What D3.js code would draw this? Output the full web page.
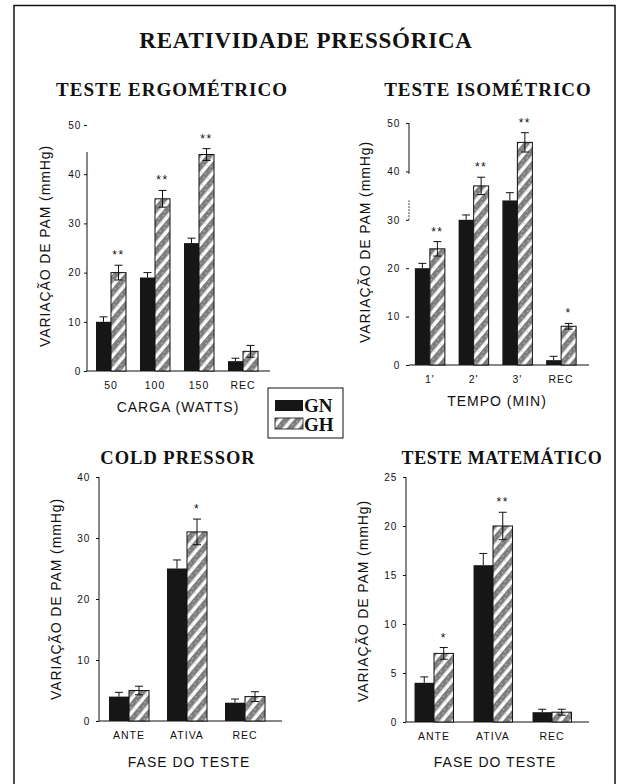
<!DOCTYPE html>
<html><head><meta charset="utf-8">
<script src="https://cdn.jsdelivr.net/npm/d3@7"></script>
<style>
html,body{margin:0;padding:0;background:#fff;}
svg{display:block;}
.serif{font-family:"Liberation Serif","Times New Roman",serif;font-weight:bold;fill:#111;}
.sans{font-family:"Liberation Sans",Arial,sans-serif;fill:#111;}
</style></head>
<body>
<svg id="c" width="618" height="784"></svg>
<script>
// ---------- DATA ----------
const series = ["GN", "GH"];

const ergoCats = ["50", "100", "150", "REC"];
const ergoGN = [10, 19, 26, 2];
const ergoGNerr = [1, 1, 1, 0.6];
const ergoGH = [20, 35, 44, 4];
const ergoGHerr = [1.5, 1.7, 1.2, 1.2];
const ergoSig = ["**", "**", "**", ""];
const ergoTicks = [0, 10, 20, 30, 40, 50];

const isoCats = ["1'", "2'", "3'", "REC"];
const isoGN = [20, 30, 34, 1];
const isoGNerr = [1, 1, 1.6, 0.8];
const isoGH = [24, 37, 46, 8];
const isoGHerr = [1.5, 1.8, 2, 0.6];
const isoSig = ["**", "**", "**", "*"];
const isoTicks = [0, 10, 20, 30, 40, 50];

const coldCats = ["ANTE", "ATIVA", "REC"];
const coldGN = [4, 25, 3];
const coldGNerr = [0.7, 1.4, 0.6];
const coldGH = [5, 31, 4];
const coldGHerr = [0.7, 2.1, 0.8];
const coldSig = ["", "*", ""];
const coldTicks = [0, 10, 20, 30, 40];

const matCats = ["ANTE", "ATIVA", "REC"];
const matGN = [4, 16, 1];
const matGNerr = [0.6, 1.2, 0.3];
const matGH = [7, 20, 1];
const matGHerr = [0.6, 1.4, 0.3];
const matSig = ["*", "**", ""];
const matTicks = [0, 5, 10, 15, 20, 25];

const yLabel = "VARIAÇÃO DE PAM (mmHg)";
// ---------- DRAW ----------
const svg = d3.select("#c");
const defs = svg.append("defs");
const pat = defs.append("pattern").attr("id", "hatch")
  .attr("patternUnits", "userSpaceOnUse").attr("width", 9).attr("height", 9)
  .attr("patternTransform", "rotate(40)");
pat.append("rect").attr("width", 9).attr("height", 9).attr("fill", "#fff");
pat.append("rect").attr("x", 0).attr("width", 5.5).attr("height", 9).attr("fill", "#7c7c7c");
pat.append("circle").attr("cx", 2).attr("cy", 2).attr("r", 0.7).attr("fill", "#cfcfcf");
pat.append("circle").attr("cx", 3.5).attr("cy", 6).attr("r", 0.7).attr("fill", "#cfcfcf");
pat.append("circle").attr("cx", 7.2).attr("cy", 4).attr("r", 0.6).attr("fill", "#999");

// frame
svg.append("path").attr("d", "M14,790 L14,5.5 L615,5.5 L615,790")
  .attr("fill", "none").attr("stroke", "#111").attr("stroke-width", 1.5);

svg.append("text").attr("class", "serif").attr("x", 306).attr("y", 48)
  .attr("text-anchor", "middle").style("font-size", "23px").style("letter-spacing", "0.8px")
  .text("REATIVIDADE PRESSÓRICA");

function panel(cfg) {
  const g = svg.append("g");
  const y = d3.scaleLinear().domain([0, cfg.max]).range([cfg.y0, cfg.yTop]);
  const x0 = d3.scaleBand().domain(cfg.cats).range(cfg.xr)
    .paddingInner(cfg.pi).paddingOuter(cfg.pi / 2);
  const x1 = d3.scaleBand().domain(series).range([0, x0.bandwidth()]);

  // title
  g.append("text").attr("class", "serif").attr("x", cfg.tx).attr("y", cfg.ty)
    .attr("text-anchor", "middle").style("font-size", cfg.tfs + "px").style("letter-spacing", cfg.tls + "px")
    .text(cfg.title);

  // y axis ticks/labels
  const ax = d3.axisLeft(y).tickValues(cfg.ticks).tickSize(3).tickPadding(cfg.tp);
  const ag = g.append("g").attr("transform", `translate(${cfg.ax},0)`).call(ax);
  ag.select(".domain").remove();
  ag.selectAll("line").attr("stroke", "#111");
  ag.selectAll("text").attr("class", "sans").attr("fill", "#111")
    .style("font-size", "10px").style("font-family", "Liberation Sans, Arial, sans-serif")
    .style("letter-spacing", "0.8px");
  // axis line segments
  cfg.seg.forEach(s => {
    g.append("line").attr("x1", cfg.ax).attr("x2", cfg.ax)
      .attr("y1", y(s[0])).attr("y2", y(s[1]))
      .attr("stroke", "#111").attr("stroke-width", 1)
      .attr("stroke-dasharray", s[2] ? "1.5,1.5" : null);
  });
  // baseline
  g.append("line").attr("x1", cfg.ax).attr("x2", cfg.xEnd)
    .attr("y1", y(0)).attr("y2", y(0)).attr("stroke", "#111").attr("stroke-width", 1.2);

  // bars
  const rows = cfg.cats.map((c, i) => ({
    c, i, vals: [
      {s: "GN", v: cfg.gn[i], e: cfg.gnErr[i]},
      {s: "GH", v: cfg.gh[i], e: cfg.ghErr[i]}
    ], sig: cfg.sig[i]
  }));
  const grp = g.selectAll(".grp").data(rows).join("g")
    .attr("transform", d => `translate(${x0(d.c)},0)`);
  grp.selectAll("rect").data(d => d.vals).join("rect")
    .attr("x", d => x1(d.s)).attr("width", x1.bandwidth())
    .attr("y", d => y(d.v)).attr("height", d => y(0) - y(d.v))
    .attr("fill", d => d.s === "GN" ? "#161616" : "url(#hatch)")
    .attr("stroke", "#111").attr("stroke-width", d => d.s === "GN" ? 0 : 1);
  // error bars
  const cap = 4;
  grp.selectAll(".eb").data(d => d.vals).join("path").attr("class", "eb")
    .attr("d", d => {
      const cx = x1(d.s) + x1.bandwidth() / 2;
      const top = y(d.v + d.e), bot = y(Math.max(0, d.v - (d.s === "GH" ? d.e : 0)));
      let p = `M${cx},${bot}L${cx},${top}M${cx - cap},${top}L${cx + cap},${top}`;
      if (d.s === "GH") p += `M${cx - cap},${bot}L${cx + cap},${bot}`;
      return p;
    })
    .attr("fill", "none").attr("stroke", "#111").attr("stroke-width", 1);
  // significance
  grp.append("text").attr("class", "sans")
    .attr("x", x1("GH") + x1.bandwidth() / 2)
    .attr("y", d => y(d.vals[1].v + d.vals[1].e) - 6)
    .attr("text-anchor", "middle").style("font-size", "12px").style("letter-spacing", "1.5px")
    .text(d => d.sig);

  // category labels
  g.selectAll(".cl").data(cfg.cats).join("text").attr("class", "sans")
    .attr("x", d => x0(d) + x0.bandwidth() / 2).attr("y", y(0) + 18)
    .attr("text-anchor", "middle").style("font-size", "10.5px").style("letter-spacing", "1px")
    .text(d => d);
  // x title
  g.append("text").attr("class", "sans").attr("x", cfg.xlx).attr("y", cfg.xly)
    .attr("text-anchor", "middle").style("font-size", "14px").style("letter-spacing", "1px")
    .text(cfg.xlabel);
  // y title
  g.append("text").attr("class", "sans")
    .attr("transform", `translate(${cfg.ylx},${cfg.yly}) rotate(-90)`)
    .attr("text-anchor", "middle").style("font-size", "14px").style("letter-spacing", "0.9px")
    .text(yLabel);
}

panel({title: "TESTE ERGOMÉTRICO", tx: 172, ty: 96, tfs: 19, tls: 1, cats: ergoCats,
  gn: ergoGN, gnErr: ergoGNerr, gh: ergoGH, ghErr: ergoGHerr, sig: ergoSig, ticks: ergoTicks,
  max: 50, y0: 371, yTop: 125, xr: [89, 265], pi: 0.318, ax: 87, xEnd: 270, tp: 3,
  seg: [[0, 44.5]], xlabel: "CARGA (WATTS)", xlx: 178, xly: 412, ylx: 50, yly: 246});

panel({title: "TESTE ISOMÉTRICO", tx: 488, ty: 96, tfs: 19, tls: 1, cats: isoCats,
  gn: isoGN, gnErr: isoGNerr, gh: isoGH, ghErr: isoGHerr, sig: isoSig, ticks: isoTicks,
  max: 50, y0: 365, yTop: 123, xr: [408, 583], pi: 0.314, ax: 409, xEnd: 589, tp: 6,
  seg: [[39.5, 50], [30, 34, true]], xlabel: "TEMPO (MIN)", xlx: 497, xly: 406, ylx: 370, yly: 242});

panel({title: "COLD PRESSOR", tx: 178, ty: 464, tfs: 18.5, tls: 1, cats: coldCats,
  gn: coldGN, gnErr: coldGNerr, gh: coldGH, ghErr: coldGHerr, sig: coldSig, ticks: coldTicks,
  max: 40, y0: 721, yTop: 477, xr: [100, 274], pi: 0.31, ax: 99, xEnd: 282, tp: 6,
  seg: [[0, 40]], xlabel: "FASE DO TESTE", xlx: 189, xly: 767, ylx: 61, yly: 599});

panel({title: "TESTE MATEMÁTICO", tx: 502, ty: 464, tfs: 18, tls: 0.6, cats: matCats,
  gn: matGN, gnErr: matGNerr, gh: matGH, ghErr: matGHerr, sig: matSig, ticks: matTicks,
  max: 25, y0: 722, yTop: 477, xr: [404.5, 581.5], pi: 0.34, ax: 406, xEnd: 589, tp: 6,
  seg: [[0, 25]], xlabel: "FASE DO TESTE", xlx: 495, xly: 767, ylx: 368, yly: 601});

// legend
const lg = svg.append("g");
lg.append("rect").attr("x", 268).attr("y", 388).attr("width", 75).attr("height", 50)
  .attr("fill", "#fff").attr("stroke", "#111").attr("stroke-width", 1);
const legendItems = series.map((s, i) => ({s, i}));
lg.selectAll(".sw").data(legendItems).join("rect")
  .attr("x", 275).attr("y", d => 400 + d.i * 18).attr("width", 28).attr("height", 11)
  .attr("fill", d => d.s === "GN" ? "#161616" : "url(#hatch)")
  .attr("stroke", "#111").attr("stroke-width", d => d.s === "GN" ? 0 : 0.8);
lg.selectAll(".lt").data(legendItems).join("text").attr("class", "serif")
  .attr("x", 304).attr("y", d => 412 + d.i * 19)
  .style("font-size", "19px").text(d => d.s);
</script>
</body></html>
